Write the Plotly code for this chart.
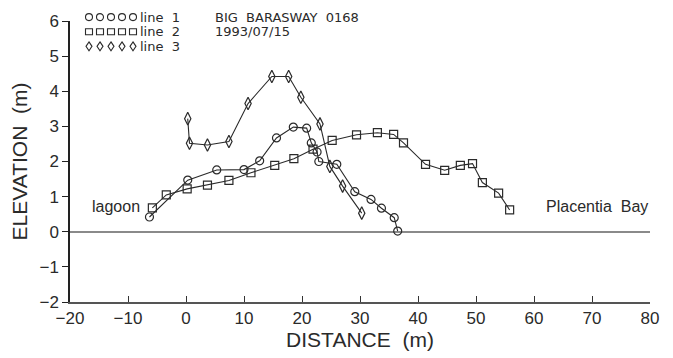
import plotly.graph_objects as go

# ---- data (distance m, elevation m) ----
line1_x = [-6.3, 0.3, 5.3, 10.0, 12.7, 15.6, 18.5, 20.8, 21.6, 22.6, 22.9, 26.0, 29.1, 31.9, 33.7, 35.9, 36.5]
line1_y = [0.42, 1.47, 1.76, 1.77, 2.02, 2.67, 2.98, 2.95, 2.53, 2.27, 2.00, 1.92, 1.14, 0.92, 0.67, 0.40, 0.02]

line2_x = [-5.8, -3.4, 0.2, 3.7, 7.4, 11.2, 15.3, 18.6, 21.9, 25.2, 29.4, 33.0, 35.8, 37.5, 41.3, 44.6, 47.3, 49.4, 51.1, 53.9, 55.8]
line2_y = [0.68, 1.05, 1.22, 1.33, 1.46, 1.68, 1.89, 2.08, 2.35, 2.60, 2.76, 2.82, 2.77, 2.53, 1.92, 1.75, 1.89, 1.94, 1.40, 1.10, 0.62]

line3_x = [0.3, 0.6, 3.7, 7.4, 10.7, 14.8, 17.7, 19.8, 23.1, 24.8, 27.0, 30.3]
line3_y = [3.22, 2.52, 2.47, 2.57, 3.65, 4.42, 4.42, 3.83, 3.07, 1.86, 1.30, 0.53]

series_names = ["line  1", "line  2", "line  3"]
series_symbols = ["circle-open", "square-open", "diamond-tall-open"]

x_ticks = [-20, -10, 0, 10, 20, 30, 40, 50, 60, 70, 80]
y_ticks = [-2, -1, 0, 1, 2, 3, 4, 5, 6]

header_lines = ["BIG  BARASWAY  0168", "1993/07/15"]
label_left = "lagoon"
label_right = "Placentia  Bay"

INK = "#2a2a2a"
FONT = "Liberation Sans, Arial, sans-serif"
LFONT = "DejaVu Sans, sans-serif"

W, H = 673, 358
ML, MR, MT, MB = 70, 23, 18, 52
pw = W - ML - MR
ph = H - MT - MB

fig = go.Figure()

for xs, ys, sym in zip([line1_x, line2_x, line3_x], [line1_y, line2_y, line3_y], series_symbols):
    fig.add_trace(go.Scatter(
        x=xs, y=ys, mode="lines+markers",
        line=dict(color=INK, width=1.1),
        marker=dict(symbol=sym, size=8 if sym != "diamond-tall-open" else 9,
                    color=INK, line=dict(width=1.2, color=INK)),
        showlegend=False, cliponaxis=False,
    ))

# ---- custom legend: 5 repeated symbols per row, drawn as pixel-sized shapes ----
row_px = [14, 29, 44]
mark_px = [89, 100, 111, 122, 133]


def fx(p):
    return (p - ML) / pw


def fy(p):
    return (H - MB - p) / ph


shape_line = dict(color=INK, width=1.1)
for r, sym in enumerate(series_symbols):
    for p in mark_px:
        common = dict(xref="paper", yref="paper", xsizemode="pixel", ysizemode="pixel",
                      xanchor=fx(p), yanchor=fy(row_px[r]), line=shape_line, layer="above")
        if sym == "circle-open":
            fig.add_shape(type="circle", x0=-3.5, x1=3.5, y0=-3.5, y1=3.5, **common)
        elif sym == "square-open":
            fig.add_shape(type="rect", x0=-3.5, x1=3.5, y0=-3, y1=3, **common)
        else:
            fig.add_shape(type="path", path="M 0,4.5 L 3,0 L 0,-4.5 L -3,0 Z", **common)
    fig.add_annotation(xref="paper", yref="paper", x=fx(139), y=fy(row_px[r]),
                       text=series_names[r], showarrow=False, xanchor="left", yanchor="middle",
                       borderpad=0, font=dict(family=LFONT, size=13, color=INK))

for i, t in enumerate(header_lines):
    fig.add_annotation(xref="paper", yref="paper", x=fx(214), y=fy(row_px[i]),
                       text=t, showarrow=False, xanchor="left", yanchor="middle",
                       borderpad=0, font=dict(family=LFONT, size=13, color=INK))

fig.add_annotation(x=-7.6, y=0.72, text=label_left, showarrow=False, xanchor="right", yanchor="middle",
                   font=dict(family=FONT, size=16, color=INK))
fig.add_annotation(xref="paper", x=1.0, y=0.72, text=label_right, showarrow=False,
                   xanchor="right", yanchor="middle",
                   font=dict(family=FONT, size=16, color=INK))

fig.update_layout(
    width=W, height=H,
    margin=dict(l=ML, r=MR, t=MT, b=MB),
    paper_bgcolor="white", plot_bgcolor="white",
    font=dict(family=FONT, color=INK),
    xaxis=dict(range=[-20, 80], tickvals=x_ticks, showgrid=False, zeroline=False,
               showline=True, linecolor="#555", linewidth=2,
               ticks="inside", ticklen=6, tickcolor="#333", tickwidth=1.2,
               tickfont=dict(size=17, family=FONT, color=INK),
               title=dict(text="DISTANCE  (m)", font=dict(size=21, family=FONT, color=INK), standoff=3),
               fixedrange=True),
    yaxis=dict(range=[-2, 6], tickvals=y_ticks, showgrid=False,
               zeroline=True, zerolinecolor="#8a8a8a", zerolinewidth=2,
               showline=True, linecolor="#222", linewidth=1.5,
               ticks="outside", ticklen=6, tickcolor="#222", tickwidth=1.2,
               tickfont=dict(size=17, family=FONT, color=INK),
               title=dict(text="ELEVATION  (m)", font=dict(size=21, family=FONT, color=INK), standoff=6),
               fixedrange=True),
)

fig.write_html("out.html")
